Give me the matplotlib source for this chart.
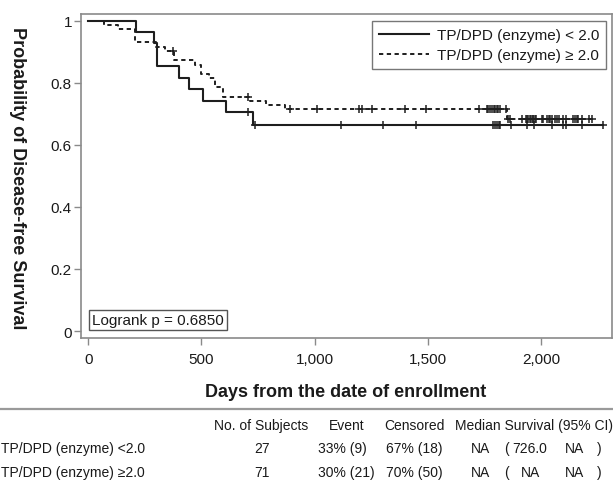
import numpy as np
import matplotlib
matplotlib.use("Agg")
import matplotlib.pyplot as plt
from matplotlib.lines import Line2D

plt.rcParams['font.family'] = ['Liberation Sans Narrow', 'DejaVu Sans Condensed', 'Liberation Sans', 'DejaVu Sans']

# ---------------- data ----------------
group_labels = ["TP/DPD (enzyme) < 2.0", "TP/DPD (enzyme) \u2265 2.0"]

# group 1: TP/DPD < 2.0 (solid)
g1_event_days = [211, 290, 302, 402, 446, 508, 607, 726]
g1_surv = [0.963, 0.926, 0.852, 0.815, 0.778, 0.741, 0.704, 0.665]
g1_censor_days = [707, 735, 1116, 1303, 1446, 1789, 1797, 1804, 1812, 1819, 1866,
                  1939, 1968, 2050, 2098, 2111, 2179, 2275]

# group 2: TP/DPD >= 2.0 (dashed)
g2_event_days = [69, 133, 206, 300, 339, 380, 472, 500, 532, 560, 596, 714, 783, 869, 1848]
g2_surv = [0.986, 0.972, 0.930, 0.915, 0.901, 0.873, 0.857, 0.828, 0.814, 0.786,
           0.755, 0.742, 0.728, 0.715, 0.683]
g2_censor_days = [376, 707, 891, 1009, 1197, 1207, 1252, 1401, 1491, 1726, 1760, 1767,
                  1775, 1782, 1790, 1796, 1804, 1811, 1818, 1843,
                  1853, 1862, 1914, 1933, 1938, 1944, 1950, 1955, 1962, 1966, 1972,
                  1978, 2003, 2010, 2025, 2033, 2040, 2048, 2060, 2069, 2080, 2095,
                  2110, 2140, 2150, 2157, 2164, 2180, 2213, 2223]

logrank_text = "Logrank p = 0.6850"
x_ticks = [0, 500, 1000, 1500, 2000]
x_tick_labels = ["0", "500", "1,000", "1,500", "2,000"]
y_ticks = [0, 0.2, 0.4, 0.6, 0.8, 1.0]
y_tick_labels = ["0", "0.2", "0.4", "0.6", "0.8", "1"]
x_label = "Days from the date of enrollment"
y_label = "Probability of Disease-free Survival"

table_headers = ["No. of Subjects", "Event", "Censored", "Median Survival (95% CI)"]
table_rows = ["TP/DPD (enzyme) <2.0", "TP/DPD (enzyme) \u22652.0"]
table_n = ["27", "71"]
table_event = ["33% (9)", "30% (21)"]
table_censored = ["67% (18)", "70% (50)"]
table_median = ["NA", "NA"]
table_ci_low = ["726.0", "NA"]
table_ci_high = ["NA", "NA"]

# ---------------- figure ----------------
W, H = 613, 481
fig = plt.figure(figsize=(W / 100, H / 100), dpi=100)
ax_l, ax_r, ax_t, ax_b = 81, 612, 15, 339
ax = fig.add_axes([ax_l / W, 1 - ax_b / H, (ax_r - ax_l) / W, (ax_b - ax_t) / H])

line_col = "#1e1e1e"
spine_col = "#8a8a8a"
text_col = "#1a1a1a"


def km_curve(event_days, surv, censor_days):
    end = max(censor_days + event_days)
    xs = np.array([0] + event_days + [end], dtype=float)
    ys = np.array([1.0] + surv + [surv[-1]], dtype=float)
    c = np.array(censor_days, dtype=float)
    idx = np.searchsorted(np.array(event_days, dtype=float), c, side='right')
    cy = np.array([1.0] + surv)[idx]
    return xs, ys, c, cy


styles = [dict(ls='-', lw=1.5), dict(ls=(0, (2.2, 1.8)), lw=1.4)]
datasets = [(g1_event_days, g1_surv, g1_censor_days), (g2_event_days, g2_surv, g2_censor_days)]
handles = []
for (ev, sv, cd), st, lab in zip(datasets, styles, group_labels):
    xs, ys, c, cy = km_curve(ev, sv, cd)
    ax.step(xs, ys, where='post', color=line_col, **st)
    ax.plot(c, cy, ls='none', marker='+', ms=5.5, mew=1.1, color=line_col)
    handles.append(Line2D([], [], color=line_col, **st))

ax.set_xlim(-32, 2313)
ax.set_ylim(-0.0225, 1.021)
ax.set_xticks(x_ticks)
ax.set_xticklabels(x_tick_labels)
ax.set_yticks(y_ticks)
ax.set_yticklabels(y_tick_labels)
ax.tick_params(axis='both', direction='out', length=5, width=1, color=spine_col,
               labelsize=11, labelcolor=text_col)
ax.tick_params(axis='x', pad=5)
ax.tick_params(axis='y', pad=1.5)
for s in ax.spines.values():
    s.set_color(spine_col)
    s.set_linewidth(1.2)

leg = ax.legend(handles, group_labels, loc='upper right', bbox_to_anchor=(0.989, 0.978),
                fontsize=11, frameon=True, fancybox=False, handlelength=3.3,
                handletextpad=0.5, borderpad=0.45, labelspacing=0.4, borderaxespad=0)
leg.get_frame().set_edgecolor("#555555")
leg.get_frame().set_linewidth(1.0)
for t in leg.get_texts():
    t.set_color(text_col)

ax.text(0.021, 0.034, logrank_text, transform=ax.transAxes, fontsize=11, color=text_col,
        ha='left', va='bottom',
        bbox=dict(boxstyle='square,pad=0.2', fc='white', ec='#555555', lw=1.0))

fig.text(346 / W, 1 - 393 / H, x_label, ha='center', va='center', fontsize=13,
         fontweight='bold', color=text_col)
fig.text(17 / W, 1 - 178 / H, y_label, ha='center', va='center', rotation=-90,
         fontsize=13, fontweight='bold', color=text_col)

# separator line
fig.add_artist(Line2D([0, 1], [1 - 410 / H, 1 - 410 / H], transform=fig.transFigure,
                      color="#9a9a9a", lw=1.6))

def fx(px):
    return px / W

def fy(py):
    return 1 - py / H

ts = 10
hy = 426
fig.text(fx(261.5), fy(hy), table_headers[0], ha='center', va='center', fontsize=ts, color=text_col)
fig.text(fx(347), fy(hy), table_headers[1], ha='center', va='center', fontsize=ts, color=text_col)
fig.text(fx(414), fy(hy), table_headers[2], ha='center', va='center', fontsize=ts, color=text_col)
fig.text(fx(534), fy(hy), table_headers[3], ha='center', va='center', fontsize=ts, color=text_col)

row_y = [449, 473]
for i, ry in enumerate(row_y):
    fig.text(fx(1), fy(ry), table_rows[i], ha='left', va='center', fontsize=ts, color=text_col)
    fig.text(fx(262), fy(ry), table_n[i], ha='center', va='center', fontsize=ts, color=text_col)
    fig.text(fx(318), fy(ry), table_event[i], ha='left', va='center', fontsize=ts, color=text_col)
    fig.text(fx(386), fy(ry), table_censored[i], ha='left', va='center', fontsize=ts, color=text_col)
    fig.text(fx(481), fy(ry), table_median[i], ha='center', va='center', fontsize=ts, color=text_col)
    fig.text(fx(504), fy(ry), "(", ha='left', va='center', fontsize=ts, color=text_col)
    fig.text(fx(530), fy(ry), table_ci_low[i], ha='center', va='center', fontsize=ts, color=text_col)
    fig.text(fx(574), fy(ry), table_ci_high[i], ha='center', va='center', fontsize=ts, color=text_col)
    fig.text(fx(597), fy(ry), ")", ha='left', va='center', fontsize=ts, color=text_col)

fig.savefig("out.png", dpi=100)
